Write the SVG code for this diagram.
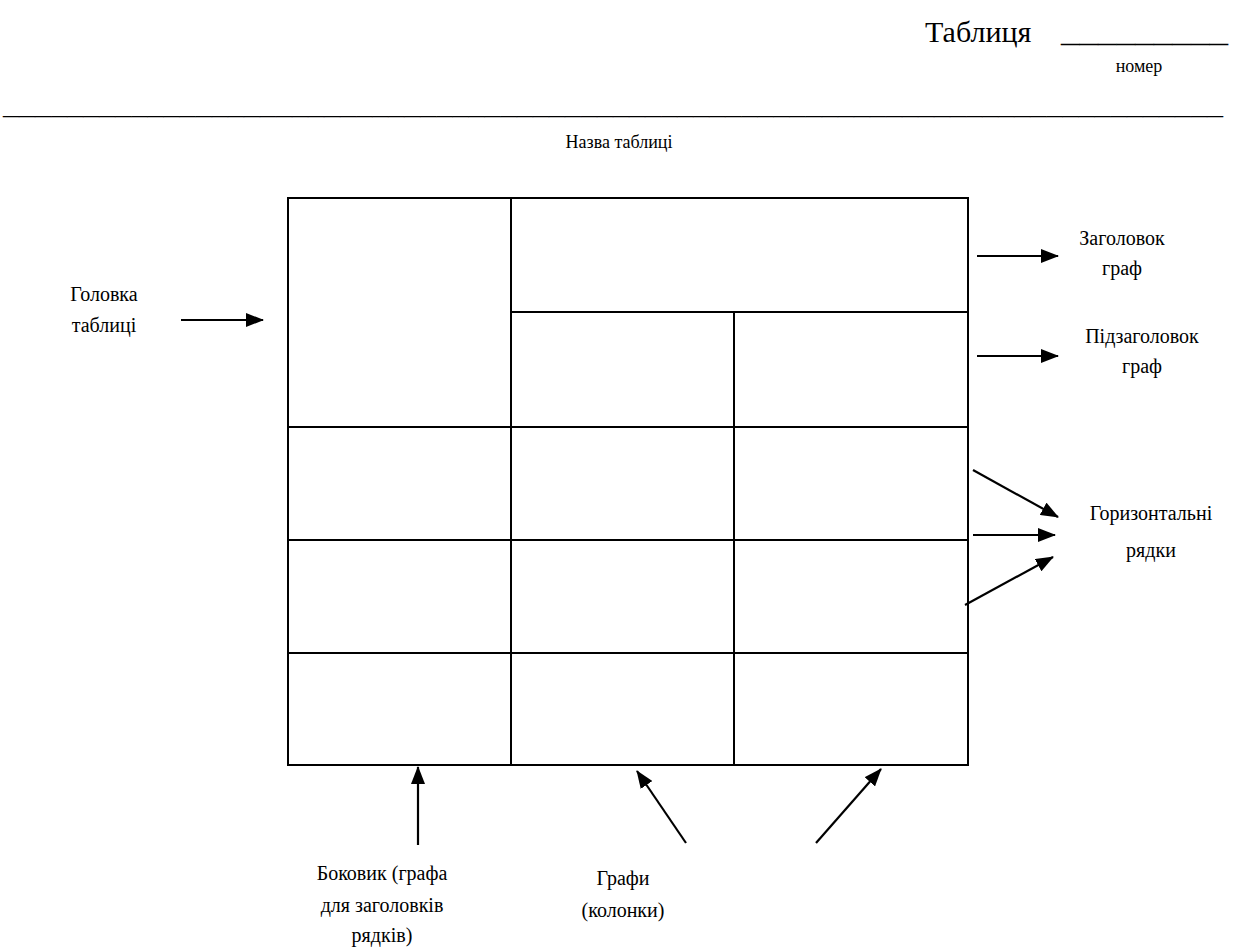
<svg xmlns="http://www.w3.org/2000/svg" width="1238" height="948" viewBox="0 0 1238 948">
<defs>
<marker id="ah" markerWidth="18" markerHeight="14" refX="17" refY="7" orient="auto" markerUnits="userSpaceOnUse">
<path d="M0,0 L18,7 L0,14 Z" fill="#000"/>
</marker>
<style>
text{font-family:"Liberation Serif","Times New Roman",serif}
.t{font-size:20px;text-anchor:middle}
.s{font-size:18px;text-anchor:middle}
.b{font-size:30px}
.g{stroke:#000;stroke-width:2;fill:none}
.a{stroke:#000;stroke-width:2.2;fill:none;marker-end:url(#ah)}
</style>
</defs>
<rect width="1238" height="948" fill="#fff"/>
<g id="title">
<text class="b" x="925" y="42">Таблиця</text>
<text class="b" x="1061" y="42" textLength="167" lengthAdjust="spacingAndGlyphs">_________</text>
<text class="s" x="1139" y="72">номер</text>
<text class="t" x="3" y="114" style="text-anchor:start" textLength="1220" lengthAdjust="spacingAndGlyphs">____________________________________________________________________________</text>
<text class="s" x="619" y="148">Назва таблиці</text>
</g>
<g id="table">
<rect class="g" x="288" y="198" width="680" height="567"/>
<line class="g" x1="511" y1="198" x2="511" y2="765"/>
<line class="g" x1="734" y1="312" x2="734" y2="765"/>
<line class="g" x1="511" y1="312" x2="968" y2="312"/>
<line class="g" x1="288" y1="427" x2="968" y2="427"/>
<line class="g" x1="288" y1="540" x2="968" y2="540"/>
<line class="g" x1="288" y1="653" x2="968" y2="653"/>
</g>
<g id="label-golovka"><text class="t" x="104" y="301">Головка</text><text class="t" x="104" y="332">таблиці</text></g>
<g id="label-zagolovok"><text class="t" x="1122" y="245">Заголовок</text><text class="t" x="1122" y="275">граф</text></g>
<g id="label-pidzagolovok"><text class="t" x="1142" y="343">Підзаголовок</text><text class="t" x="1142" y="373">граф</text></g>
<g id="label-ryadky"><text class="t" x="1151" y="520">Горизонтальні</text><text class="t" x="1151" y="557">рядки</text></g>
<g id="label-bokovyk"><text class="t" x="382" y="880">Боковик (графа</text><text class="t" x="382" y="912">для заголовків</text><text class="t" x="382" y="942">рядків)</text></g>
<g id="label-grafy"><text class="t" x="623" y="885">Графи</text><text class="t" x="623" y="917">(колонки)</text></g>
<g id="connectors">
<line class="a" x1="181" y1="320" x2="263" y2="320"/>
<line class="a" x1="977" y1="256" x2="1058" y2="256"/>
<line class="a" x1="977" y1="356" x2="1058" y2="356"/>
<line class="a" x1="973" y1="470" x2="1058" y2="517"/>
<line class="a" x1="973" y1="535" x2="1055" y2="535"/>
<line class="a" x1="965" y1="605" x2="1053" y2="557"/>
<line class="a" x1="418" y1="845" x2="418" y2="767"/>
<line class="a" x1="686" y1="843" x2="637" y2="771"/>
<line class="a" x1="816" y1="843" x2="881" y2="769"/>
</g>
</svg>
